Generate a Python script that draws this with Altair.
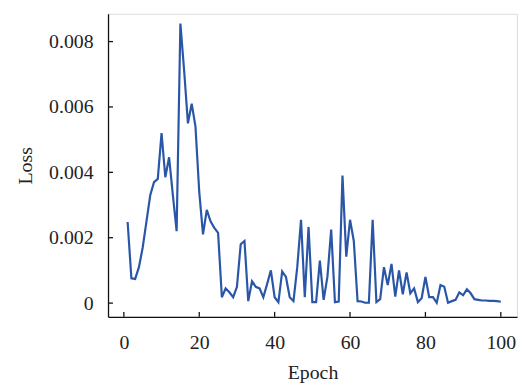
import altair as alt
import pandas as pd

epochs = list(range(1, 101))
loss = [
    0.00248, 0.00076, 0.00074, 0.0011, 0.0017, 0.0025, 0.0033, 0.0037, 0.0038, 0.0052,
    0.00385, 0.00446, 0.0033, 0.0022, 0.00855, 0.0071, 0.0055, 0.0061, 0.0054, 0.0034,
    0.0021, 0.00285, 0.0025, 0.0023, 0.00215, 0.00018, 0.00045, 0.00033, 0.00018, 0.0005,
    0.0018, 0.0019, 0.00006, 0.00067, 0.0005, 0.00045, 0.00018, 0.00058, 0.001, 0.00018,
    0.00003, 0.00097, 0.0008, 0.00018, 0.00006, 0.0011, 0.00255, 0.00018, 0.00233, 0.00003,
    0.00003, 0.0013, 0.0001, 0.0008, 0.00225, 0.00003, 0.00005, 0.0039, 0.00142, 0.00255,
    0.0019, 0.00006, 0.00005, 0.00001, 0.00001, 0.00255, 0.00003, 0.00012, 0.0011, 0.00055,
    0.0012, 0.0002, 0.001, 0.00027, 0.00094, 0.0003, 0.00045, 0.00003, 0.00015, 0.0008,
    0.00018, 0.00018, 0.00001, 0.00055, 0.0005, 0.00001, 0.00006, 0.0001, 0.00033, 0.00024,
    0.00042, 0.0003, 0.00012, 0.0001, 0.00008, 0.00008, 0.00007, 0.00007, 0.00006, 0.00004,
]
x_ticks = [0, 20, 40, 60, 80, 100]
y_ticks = [0, 0.002, 0.004, 0.006, 0.008]

W, H = 413, 306
FONT = "Liberation Serif"

df = pd.DataFrame({"Epoch": epochs, "Loss": loss})
xt = pd.DataFrame({"Epoch": x_ticks})
yt = pd.DataFrame({"Loss": y_ticks})

xscale = alt.Scale(domain=[-4.2, 104.3], nice=False, zero=False)
yscale = alt.Scale(domain=[-0.00042, 0.00885], nice=False, zero=False)

line = alt.Chart(df).mark_line(color="#2a56a8", strokeWidth=2.2).encode(
    x=alt.X("Epoch:Q", scale=xscale, axis=alt.Axis(
        values=x_ticks, ticks=False, grid=False, domainColor="#111", domainWidth=1.3,
        labelFont=FONT, labelFontSize=20, labelColor="#222", labelPadding=26,
        labelBaseline="middle",
        title="Epoch", titleFont=FONT, titleFontSize=20, titleFontWeight="normal",
        titleColor="#222", titleY=62, titleBaseline="alphabetic")),
    y=alt.Y("Loss:Q", scale=yscale, axis=alt.Axis(
        values=y_ticks, ticks=False, grid=False, domainColor="#111", domainWidth=1.3,
        labelFont=FONT, labelFontSize=20, labelColor="#222", labelPadding=15,
        labelExpr="datum.value == 0 ? '0' : format(datum.value, '.3f')",
        title="Loss", titleFont=FONT, titleFontSize=20, titleFontWeight="normal",
        titleColor="#222", titleX=-77, titleBaseline="alphabetic")),
)

xtick_layer = alt.Chart(xt).mark_rule(color="#111", strokeWidth=1.3).encode(
    x=alt.X("Epoch:Q", scale=xscale),
    y=alt.value(H), y2=alt.value(H - 5),
)
ytick_layer = alt.Chart(yt).mark_rule(color="#111", strokeWidth=1.3).encode(
    y=alt.Y("Loss:Q", scale=yscale),
    x=alt.value(0), x2=alt.value(5),
)

chart = alt.layer(line, xtick_layer, ytick_layer).properties(
    width=W, height=H,
    autosize=alt.AutoSizeParams(type="none"),
    padding={"left": 101, "top": 4, "right": 2, "bottom": 68},
).configure_view(stroke="#999", strokeWidth=1.2).configure(background="white")

chart.save("out.html", embed_options={"renderer": "svg", "actions": False})
